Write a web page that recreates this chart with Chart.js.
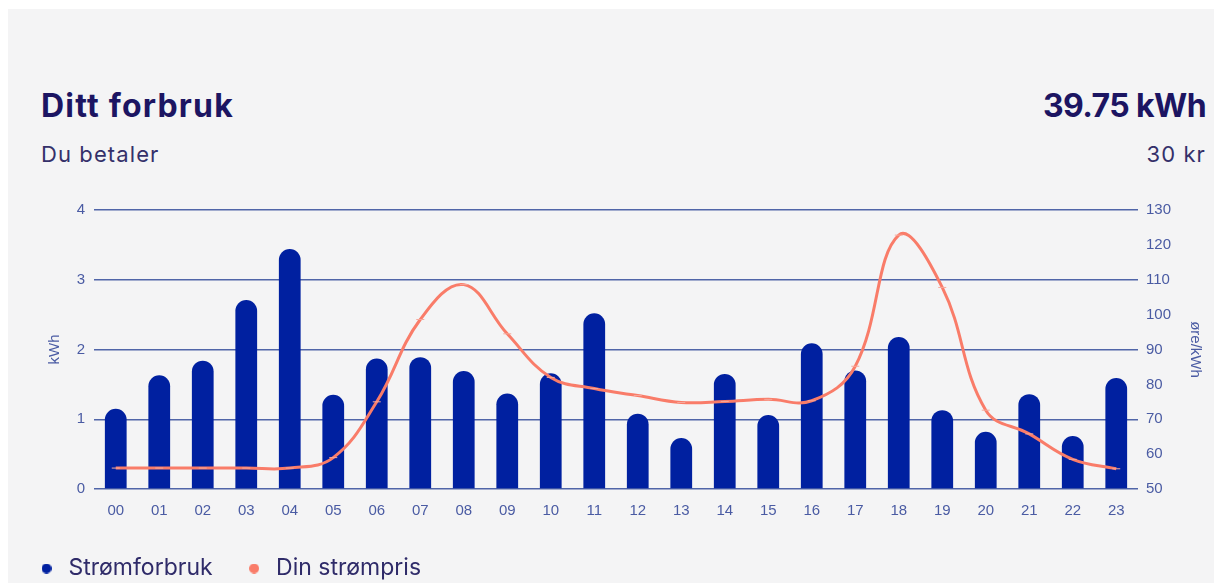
<!DOCTYPE html>
<html>
<head>
<meta charset="utf-8">
<script src="https://cdn.jsdelivr.net/npm/chart.js@4.4.1/dist/chart.umd.min.js"></script>
<style>
  html, body { margin: 0; padding: 0; background: #ffffff; width: 1214px; height: 583px; overflow: hidden; }
  #card { position: absolute; left: 8px; top: 9px; width: 1206px; height: 574px; background: #f4f4f5; }
  .txt { position: absolute; font-family: Inter, "Noto Sans", sans-serif; white-space: nowrap; line-height: 1; }
  #title { left: 41px; top: 90px; font-size: 32px; font-weight: 700; letter-spacing: 1.2px; color: #1c1562; }
  #total { right: 8px; top: 90px; font-size: 32px; font-weight: 700; letter-spacing: -0.6px; color: #1c1562; }
  #sub { left: 41px; top: 143px; font-size: 22px; font-weight: 400; letter-spacing: 1.1px; color: #34306a; }
  #cost { right: 8px; top: 143px; font-size: 22px; font-weight: 400; letter-spacing: 1.1px; color: #34306a; }
  #wrap { position: absolute; left: 0; top: 0; width: 1214px; height: 583px; }
</style>
</head>
<body>
<div id="card"></div>
<div class="txt" id="title">Ditt forbruk</div>
<div class="txt" id="total">39.75 kWh</div>
<div class="txt" id="sub">Du betaler</div>
<div class="txt" id="cost">30 kr</div>
<div id="wrap"><canvas id="c" width="1214" height="583"></canvas></div>
<script>
const hours = ['00','01','02','03','04','05','06','07','08','09','10','11','12','13','14','15','16','17','18','19','20','21','22','23'];
const consumptionKWh = [1.15,1.63,1.84,2.71,3.44,1.35,1.87,1.89,1.69,1.37,1.66,2.52,1.08,0.73,1.65,1.06,2.09,1.70,2.18,1.13,0.82,1.36,0.76,1.59];
const priceOre = [56,56,56,56,56,59,75,98.6,108.6,94.5,82,78.8,76.8,74.8,75.1,75.7,75.3,85.2,122.8,107.8,72.6,65.8,58.5,55.8];
const kwhTicks = [0,1,2,3,4];
const priceTicks = [50,60,70,80,90,100,110,120,130];
const seriesNames = ['Strømforbruk','Din strømpris'];

const BAR = '#0020a0';
const LINE = '#f97c69';
const TICK = '#4a5ba3';
const GRID = '#5065a8';

function dot(color, d) {
  const cv = document.createElement('canvas');
  cv.width = d; cv.height = d;
  const x = cv.getContext('2d');
  x.fillStyle = color;
  x.beginPath(); x.arc(d/2, d/2, d/2, 0, Math.PI*2); x.fill();
  return cv;
}
const dots = [dot(BAR, 10), dot(LINE, 10)];

const tickFont = { family: '"Liberation Sans", Arial, sans-serif', size: 15 };

new Chart(document.getElementById('c'), {
  data: {
    labels: hours,
    datasets: [
      {
        type: 'line',
        label: seriesNames[1],
        data: priceOre,
        yAxisID: 'yPrice',
        borderColor: LINE,
        backgroundColor: LINE,
        borderWidth: 3,
        tension: 0.4,
        pointStyle: 'line',
        pointRadius: 4,
        pointBorderWidth: 1,
        pointBorderColor: '#f7a89b',
        order: 0
      },
      {
        type: 'bar',
        label: seriesNames[0],
        data: consumptionKWh,
        yAxisID: 'yKwh',
        backgroundColor: BAR,
        borderRadius: 11,
        borderSkipped: 'start',
        barPercentage: 0.5,
        categoryPercentage: 1.0,
        order: 1
      }
    ]
  },
  options: {
    responsive: false,
    animation: false,
    layout: { padding: { left: 5, right: 0, top: 210, bottom: -7 } },
    plugins: {
      tooltip: { enabled: false },
      legend: {
        position: 'bottom',
        align: 'start',
        reverse: true,
        labels: {
          usePointStyle: true,
          boxWidth: 21,
          boxHeight: 21,
          padding: 31,
          color: '#2f2b69',
          font: { family: 'Inter, "Noto Sans", sans-serif', size: 23 },
          generateLabels: (chart) => {
            const items = Chart.defaults.plugins.legend.labels.generateLabels(chart);
            items.forEach(it => { it.pointStyle = it.datasetIndex === 1 ? dots[0] : dots[1]; });
            return items;
          }
        }
      }
    },
    scales: {
      x: {
        grid: { display: false, drawTicks: false },
        border: { display: false },
        ticks: { color: TICK, font: tickFont, padding: 12.6, maxRotation: 0 },
        afterFit: (s) => { s.height = 37; }
      },
      yKwh: {
        position: 'left',
        min: 0, max: 4,
        afterBuildTicks: (s) => { s.ticks = kwhTicks.map(v => ({ value: v })); },
        grid: { color: GRID, lineWidth: 1.5, drawTicks: false },
        border: { display: false },
        ticks: { color: TICK, font: tickFont, padding: 9 },
        title: { display: true, text: 'kWh', color: TICK, font: tickFont, padding: { top: 40.5, bottom: 0 } },
        afterFit: (s) => { s.width = 89; }
      },
      yPrice: {
        position: 'right',
        min: 50, max: 130,
        afterBuildTicks: (s) => { s.ticks = priceTicks.map(v => ({ value: v })); },
        grid: { display: false, drawTicks: false },
        border: { display: false },
        ticks: { color: TICK, font: tickFont, padding: 8 },
        title: { display: true, text: 'øre/kWh', color: TICK, font: tickFont, padding: { top: 10, bottom: 0 } },
        afterFit: (s) => { s.width = 76; }
      }
    }
  }
});
</script>
</body>
</html>
